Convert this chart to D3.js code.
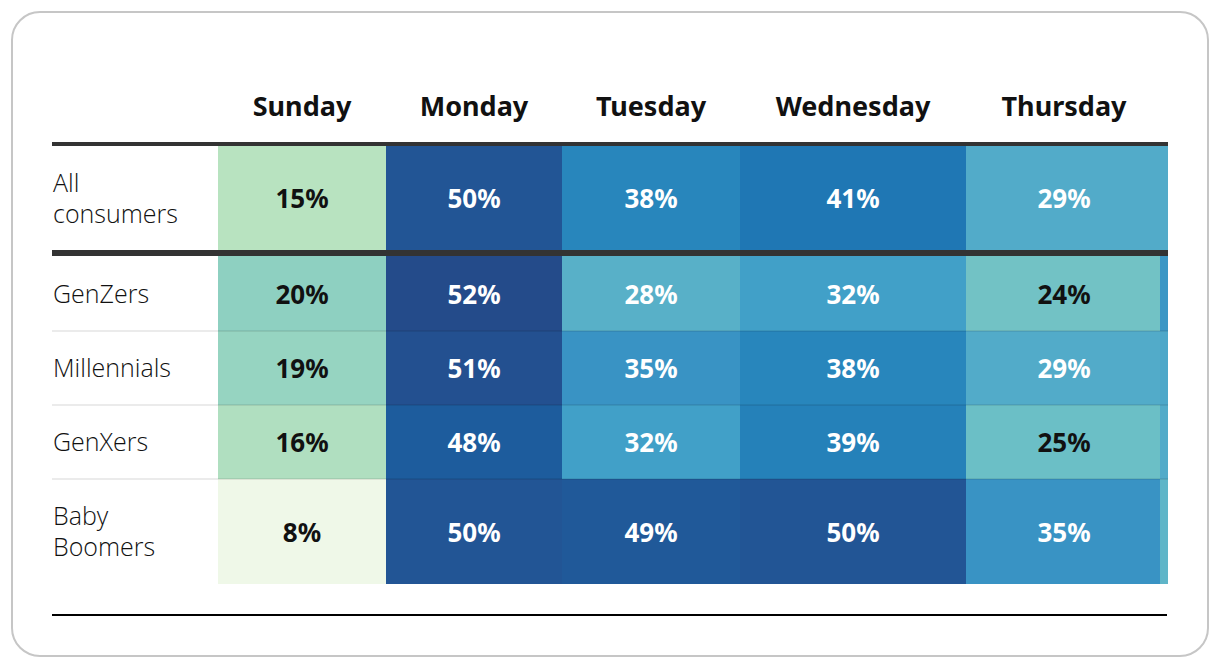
<!DOCTYPE html>
<html>
<head>
<meta charset="utf-8">
<script src="https://cdn.jsdelivr.net/npm/d3@7"></script>
<style>
  html, body { margin: 0; padding: 0; background: #fff; }
  svg { display: block; }
</style>
</head>
<body>
<svg id="chart" width="1220" height="668"></svg>
<script>
// ---- data ----
const days = ["Sunday", "Monday", "Tuesday", "Wednesday", "Thursday", "Friday"];
const visibleHeaders = ["Sunday", "Monday", "Tuesday", "Wednesday", "Thursday"];
const summaryRow = "All consumers";
const summaryValues = [15, 50, 38, 41, 29, null];
const groups = ["GenZers", "Millennials", "GenXers", "Baby Boomers"];
const groupValues = [
  [20, 52, 28, 32, 24, 34],
  [19, 51, 35, 38, 29, 30],
  [16, 48, 32, 39, 25, 29],
  [8, 50, 49, 50, 35, 27]
];
const colorStops = [8, 15, 20, 25, 29, 32, 35, 38, 41, 48, 50, 52];
const colorRange = ["#eff8e8", "#b8e3c0", "#8ed0c1", "#6bbfc6", "#52abc9", "#41a0c8",
                    "#3993c4", "#2886bc", "#1f77b4", "#1d5c9d", "#225595", "#244b8a"];

// ---- layout ----
const svg = d3.select("#chart");
const left = 52, right = 1168;
const colEdges = [218, 386, 562, 740, 966, 1160, 1360];
const x = d3.scaleOrdinal().domain(days).range(colEdges.slice(0, days.length));
const colW = d => colEdges[days.indexOf(d) + 1] - colEdges[days.indexOf(d)];
const color = d3.scaleLinear().domain(colorStops).range(colorRange).interpolate(d3.interpolateRgb).clamp(true);
const textColor = v => v >= 27 ? "#ffffff" : "#111111";

const rowTops = [146, 256, 331, 405, 479];
const rowBottoms = [250, 331, 405, 479, 584];
const allRows = [summaryRow].concat(groups);
const allValues = [summaryValues].concat(groupValues);
const y = d3.scaleOrdinal().domain(allRows).range(rowTops);
const rowH = r => rowBottoms[allRows.indexOf(r)] - rowTops[allRows.indexOf(r)];

// card
svg.append("rect")
  .attr("x", 12).attr("y", 12).attr("width", 1196).attr("height", 644)
  .attr("rx", 28).attr("ry", 28)
  .attr("fill", "#fff").attr("stroke", "#c6c6c6").attr("stroke-width", 2);

svg.append("clipPath").attr("id", "clip")
  .append("rect").attr("x", 0).attr("y", 0).attr("width", right).attr("height", 668);

const g = svg.append("g").attr("clip-path", "url(#clip)");

// headers
g.selectAll("text.hdr").data(visibleHeaders).join("text")
  .attr("class", "hdr")
  .attr("x", d => x(d) + colW(d) / 2 + (d === "Thursday" ? 1 : 0))
  .attr("y", 116)
  .attr("text-anchor", "middle")
  .attr("font-family", "'Noto Sans', sans-serif")
  .attr("font-weight", 700)
  .attr("font-size", 27)
  .attr("fill", "#111")
  .text(d => d);

// cells
const cells = [];
allRows.forEach((r, i) => {
  allValues[i].forEach((v, j) => {
    if (v === null) return;
    let w = colW(days[j]);
    if (j + 1 < days.length && allValues[i][j + 1] === null) w = right - x(days[j]);
    cells.push({ row: r, day: days[j], value: v, w: w });
  });
});

g.selectAll("rect.cell").data(cells).join("rect")
  .attr("class", "cell")
  .attr("x", d => x(d.day))
  .attr("y", d => y(d.row))
  .attr("width", d => d.w)
  .attr("height", d => rowH(d.row))
  .attr("fill", d => color(d.value));

g.selectAll("text.val").data(cells.filter(d => visibleHeaders.includes(d.day))).join("text")
  .attr("class", "val")
  .attr("x", d => x(d.day) + colW(d.day) / 2 + (d.day === "Thursday" ? 1 : 0))
  .attr("y", d => y(d.row) + rowH(d.row) / 2 + 10)
  .attr("text-anchor", "middle")
  .attr("font-family", "'Noto Sans', sans-serif")
  .attr("font-weight", 700)
  .attr("font-size", 26)
  .attr("fill", d => textColor(d.value))
  .text(d => d.value + "%");

// row labels
const labelLines = r => (r === "All consumers" ? ["All", "consumers"] : r === "Baby Boomers" ? ["Baby", "Boomers"] : [r]);
allRows.forEach(r => {
  const lines = labelLines(r);
  const cy = y(r) + rowH(r) / 2;
  const t = svg.append("text")
    .attr("font-family", "'Open Sans', sans-serif")
    .attr("font-weight", 300)
    .attr("font-size", 25)
    .attr("fill", "#111");
  lines.forEach((ln, k) => {
    t.append("tspan").attr("x", 53)
      .attr("y", cy + 9 + (k - (lines.length - 1) / 2) * 31)
      .text(ln);
  });
});

// separators
svg.append("rect").attr("x", left).attr("y", 142).attr("width", right - left).attr("height", 4).attr("fill", "#333");
svg.append("rect").attr("x", left).attr("y", 250).attr("width", right - left).attr("height", 6).attr("fill", "#333");
[331, 405, 479].forEach(yy => {
  svg.append("rect").attr("x", left).attr("y", yy - 1).attr("width", right - left).attr("height", 2)
    .attr("fill", "rgba(0,0,0,0.08)");
});
svg.append("rect").attr("x", left).attr("y", 614).attr("width", right - left - 1).attr("height", 2).attr("fill", "#000");
</script>
</body>
</html>
